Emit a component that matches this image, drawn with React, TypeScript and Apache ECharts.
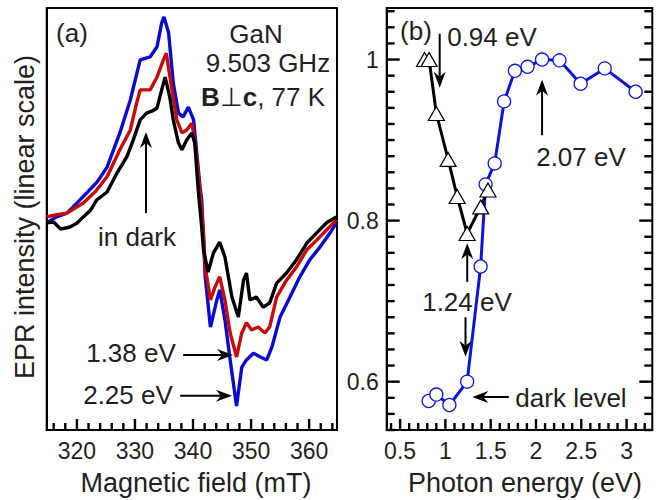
import React, { useEffect, useRef } from "react";
import * as echarts from "echarts";

// ---------- Panel (a): EPR spectra (magnetic field in mT, intensity in arb. units 0-100)
const FIELD_TICKS = Array.from({ length: 25 }, (_, i) => 316 + 2 * i);
const FIELD_LABELS = [320, 330, 340, 350, 360];

const SPEC_DARK: number[][] = [
  [314.8, 49.1], [316.0, 49.3], [317.2, 47.6], [318.8, 48.1], [320.0, 49.0], [321.1, 50.5],
  [322.3, 52.0], [323.4, 54.5], [325.2, 56.4], [326.9, 60.9], [328.6, 64.7], [329.7, 68.7],
  [330.9, 73.5], [332.0, 75.1], [333.0, 75.6], [333.8, 76.3], [334.6, 80.6], [335.2, 83.6],
  [336.0, 78.9], [336.6, 73.5], [337.5, 68.0], [338.1, 66.4], [338.9, 68.7], [339.8, 70.4],
  [340.3, 68.0], [340.9, 56.9], [341.5, 48.1], [341.8, 42.7], [342.6, 37.4], [343.5, 41.9],
  [344.6, 44.5], [345.5, 41.0], [346.7, 31.5], [347.8, 26.8], [348.7, 35.5], [349.2, 37.2],
  [349.8, 30.8], [350.9, 31.5], [352.1, 29.1], [353.2, 30.1], [354.4, 34.8], [356.1, 37.2],
  [357.8, 40.3], [359.6, 44.3], [361.3, 46.7], [363.0, 49.1], [364.7, 50.5],
];
const SPEC_138: number[][] = [
  [314.8, 50.5], [316.5, 51.0], [318.3, 51.4], [321.1, 53.8], [323.2, 56.5], [325.2, 60.0],
  [327.4, 66.4], [329.2, 71.1], [330.3, 77.5], [330.9, 80.6], [332.6, 80.6], [333.8, 83.6],
  [334.9, 87.7], [335.4, 89.3], [336.3, 81.3], [337.2, 73.5], [338.1, 70.4], [338.9, 71.1],
  [339.8, 72.7], [340.3, 68.7], [341.2, 56.9], [341.8, 46.7], [342.1, 38.6], [343.0, 30.8],
  [343.8, 33.9], [344.6, 36.3], [345.5, 30.8], [346.4, 23.0], [347.5, 17.3], [348.4, 23.0],
  [349.2, 25.4], [350.1, 23.7], [351.2, 24.4], [352.4, 23.0], [353.2, 24.4], [354.4, 31.5],
  [356.1, 35.5], [357.8, 38.6], [359.6, 42.7], [361.3, 45.0], [363.0, 47.4], [364.7, 49.8],
];
const SPEC_225: number[][] = [
  [314.8, 49.1], [316.5, 50.5], [318.3, 51.4], [321.7, 56.2], [323.5, 58.8], [325.2, 62.3],
  [327.4, 70.4], [329.2, 78.2], [330.9, 87.7], [332.6, 88.4], [333.8, 90.8], [334.6, 96.4],
  [335.0, 97.9], [335.8, 94.1], [336.6, 82.2], [337.5, 75.1], [338.3, 74.2], [339.2, 76.5],
  [340.1, 73.5], [340.6, 66.4], [341.2, 57.6], [341.5, 54.5], [342.1, 36.3], [343.0, 24.4],
  [344.1, 30.8], [344.6, 33.2], [345.5, 26.1], [346.4, 16.6], [347.5, 5.7], [348.4, 14.9],
  [349.2, 16.6], [350.4, 18.2], [351.6, 17.3], [352.7, 16.6], [353.6, 19.7], [355.0, 26.8],
  [356.7, 31.5], [358.4, 36.3], [360.1, 40.3], [361.9, 43.4], [363.6, 46.7], [364.7, 49.1],
];

// ---------- Panel (b): normalized intensity vs photon energy
const ENERGY_TICKS = Array.from({ length: 29 }, (_, i) => +(0.4 + 0.1 * i).toFixed(1));
const ENERGY_LABELS = [0.5, 1, 1.5, 2, 2.5, 3];
const NORM_TICKS = Array.from({ length: 27 }, (_, i) => +(0.54 + 0.02 * i).toFixed(2));
const NORM_LABELS = [0.6, 0.8, 1];

const TRI_E = [0.77, 0.82, 0.9, 1.03, 1.13, 1.24, 1.39, 1.47];
const TRI_Y = [1.0, 1.0, 0.933, 0.876, 0.83, 0.784, 0.817, 0.838];
const CIRC_E = [0.815, 0.9, 1.044, 1.24, 1.389, 1.444, 1.544, 1.648, 1.767, 1.907, 2.067, 2.259, 2.493, 2.759, 3.1];
const CIRC_Y = [0.576, 0.584, 0.571, 0.6, 0.743, 0.845, 0.871, 0.948, 0.986, 0.991, 1.0, 0.999, 0.97, 0.989, 0.96];

const FONT = "'Liberation Sans', Arial, Helvetica, sans-serif";
const TXT = "#231f20";
const BLUE_A = "#0a0ad2";
const RED_A = "#c80a0a";
const BLUE_B = "#0a14dc";

const X_A = { min: 314.8, max: 364.8 };
const Y_A = { min: 0, max: 100 };
const X_B = { min: 0.352, max: 3.284 };
const Y_B = { min: 0.54, max: 1.064 };

export default function App() {
  const ref = useRef<HTMLDivElement>(null);
  useEffect(() => {
    if (!ref.current) return;
    const chart = echarts.init(ref.current, undefined, { renderer: "svg" });

    const noSplit = { splitLine: { show: false } };
    const axLine = () => ({ show: true, onZero: false, lineStyle: { color: "#000", width: 2 } });
    const lbl = (vals: number[], margin: number) => ({
      show: true, customValues: vals, fontSize: 23, color: TXT, fontFamily: FONT, margin,
    });
    const hidden = () => ({ show: false });

    const option: any = {
      animation: false,
      backgroundColor: "#fff",
      grid: [
        { left: 46.7, top: 8, width: 290.3, height: 422, show: true, borderColor: "#000", borderWidth: 2 },
        { left: 386.7, top: 8, width: 265.6, height: 422, show: true, borderColor: "#000", borderWidth: 2 },
      ],
      xAxis: [
        { type: "value", gridIndex: 0, ...X_A, position: "bottom", axisLine: axLine(),
          axisTick: hidden(), axisLabel: lbl(FIELD_LABELS, 9), ...noSplit },
        { type: "value", gridIndex: 1, ...X_B, position: "bottom", axisLine: axLine(),
          axisTick: hidden(), axisLabel: lbl(ENERGY_LABELS, 9), ...noSplit },
      ],
      yAxis: [
        { type: "value", gridIndex: 0, ...Y_A, position: "left", axisLine: axLine(),
          axisTick: hidden(), axisLabel: hidden(), ...noSplit },
        { type: "value", gridIndex: 1, ...Y_B, position: "left", axisLine: axLine(),
          axisTick: hidden(), axisLabel: lbl(NORM_LABELS, 8), ...noSplit },
      ],
      series: [
        { name: "2.25 eV", type: "line", xAxisIndex: 0, yAxisIndex: 0, data: SPEC_225, showSymbol: false,
          symbol: "none", lineStyle: { color: BLUE_A, width: 3.4 }, z: 2 },
        { name: "1.38 eV", type: "line", xAxisIndex: 0, yAxisIndex: 0, data: SPEC_138, showSymbol: false,
          symbol: "none", lineStyle: { color: RED_A, width: 3.4 }, z: 3 },
        { name: "in dark", type: "line", xAxisIndex: 0, yAxisIndex: 0, data: SPEC_DARK, showSymbol: false,
          symbol: "none", lineStyle: { color: "#000", width: 3.4 }, z: 4 },
        { name: "circles", type: "line", xAxisIndex: 1, yAxisIndex: 1,
          data: CIRC_E.map((e, i) => [e, CIRC_Y[i]]), symbol: "circle", symbolSize: 13,
          itemStyle: { color: "#fff", borderColor: BLUE_B, borderWidth: 1.3 },
          lineStyle: { color: BLUE_B, width: 3 }, z: 5 },
        { name: "triangles", type: "line", xAxisIndex: 1, yAxisIndex: 1,
          data: TRI_E.map((e, i) => [e, TRI_Y[i]]), symbol: "triangle", symbolSize: [16, 14],
          itemStyle: { color: "#fff", borderColor: "#000", borderWidth: 1.2 },
          lineStyle: { color: "#000", width: 3 }, z: 6 },
      ],
    };
    chart.setOption(option);

    const graphics: any[] = [];
    const ptA = (p: number[]) => chart.convertToPixel({ xAxisIndex: 0, yAxisIndex: 0 }, p) as number[];
    const ptB = (p: number[]) => chart.convertToPixel({ xAxisIndex: 1, yAxisIndex: 1 }, p) as number[];
    const box = (x: number, y: number, width: number, height: number) =>
      graphics.push({
        type: "rect", silent: true, z: 20,
        shape: { x, y, width, height },
        style: { fill: "#000" },
      });
    const near = (arr: number[], v: number) => arr.some((l) => Math.abs(l - v) < 1e-6);

    // inward tick marks, positioned through the axes' scales
    FIELD_TICKS.forEach((v) => {
      const p = ptA([v, Y_A.min]);
      const len = near(FIELD_LABELS, v) ? 11 : 7;
      box(p[0] - 1.2, p[1] - len, 2.4, len);
    });
    ENERGY_TICKS.forEach((v) => {
      const p = ptB([v, Y_B.min]);
      const len = near(ENERGY_LABELS, v) ? 11 : 7;
      box(p[0] - 1.2, p[1] - len, 2.4, len);
    });
    NORM_TICKS.forEach((v) => {
      const l = ptB([X_B.min, v]);
      const r = ptB([X_B.max, v]);
      const len = near(NORM_LABELS, v) ? 13 : 8;
      box(l[0], l[1] - 1.2, len, 2.4);
      box(r[0] - len, r[1] - 1.2, len, 2.4);
    });

    // annotation arrows, given in data coordinates and converted through the axes
    const arrowsA: number[][][] = [
      [[331.9, 51.4], [331.9, 70.6]],
      [[338.3, 17.8], [346.9, 17.8]],
      [[337.8, 8.1], [346.7, 8.1]],
    ];
    const arrowsB: number[][][] = [
      [[0.937, 1.032], [0.937, 0.965]],
      [[2.067, 0.906], [2.067, 0.975]],
      [[1.241, 0.724], [1.241, 0.772]],
      [[1.222, 0.68], [1.222, 0.631]],
      [[1.70, 0.581], [1.297, 0.581]],
    ];
    const addArrow = (p1: number[], p2: number[]) => {
      const dx = p2[0] - p1[0], dy = p2[1] - p1[1];
      const len = Math.hypot(dx, dy);
      const ux = dx / len, uy = dy / len;
      const nx = -uy, ny = ux;
      const L = 16, W = 12, N = 5;
      graphics.push({
        type: "line", silent: true, z: 10,
        shape: { x1: p1[0], y1: p1[1], x2: p2[0] - ux * (L - N), y2: p2[1] - uy * (L - N) },
        style: { stroke: "#000", lineWidth: 2 },
      });
      graphics.push({
        type: "polygon", silent: true, z: 10,
        shape: {
          points: [
            [p2[0], p2[1]],
            [p2[0] - ux * L + nx * W / 2, p2[1] - uy * L + ny * W / 2],
            [p2[0] - ux * (L - N), p2[1] - uy * (L - N)],
            [p2[0] - ux * L - nx * W / 2, p2[1] - uy * L - ny * W / 2],
          ],
        },
        style: { fill: "#000" },
      });
    };
    arrowsA.forEach(([a, b]) => addArrow(ptA(a), ptA(b)));
    arrowsB.forEach(([a, b]) => addArrow(ptB(a), ptB(b)));

    const txt = (text: string, x: number, y: number, size = 26, extra: any = {}) => ({
      type: "text", x, y, silent: true, z: 10, ...extra,
      style: { text, fill: TXT, fontSize: size, fontFamily: FONT, textAlign: "center", textVerticalAlign: "middle" },
    });
    graphics.push(txt("(a)", 72, 33));
    graphics.push(txt("GaN", 256, 34));
    graphics.push(txt("9.503 GHz", 268, 63));
    graphics.push({
      type: "text", x: 263, y: 97, silent: true, z: 10,
      style: {
        text: "{b|B}⊥{b|c}, 77 K", fill: TXT, fontSize: 26, fontFamily: FONT,
        textAlign: "center", textVerticalAlign: "middle",
        rich: { b: { fontWeight: "bold", fontSize: 26, fontFamily: FONT, fill: TXT, color: TXT } },
      },
    });
    graphics.push(txt("in dark", 137, 237));
    graphics.push(txt("1.38 eV", 131, 353));
    graphics.push(txt("2.25 eV", 128, 395));
    graphics.push(txt("(b)", 416, 31));
    graphics.push(txt("0.94 eV", 492, 37));
    graphics.push(txt("2.07 eV", 581, 157));
    graphics.push(txt("1.24 eV", 467, 302));
    graphics.push(txt("dark level", 571, 398));
    graphics.push(txt("Magnetic field (mT)", 196, 483, 27));
    graphics.push(txt("Photon energy (eV)", 525, 483, 27));
    graphics.push(txt("EPR intensity (linear scale)", 25, 217, 27, { rotation: Math.PI / 2 }));

    chart.setOption({ graphic: graphics });
    return () => chart.dispose();
  }, []);
  return (
    <div
      ref={ref}
      style={{ position: "fixed", left: 0, top: 0, width: 658, height: 500, background: "#fff" }}
    />
  );
}
